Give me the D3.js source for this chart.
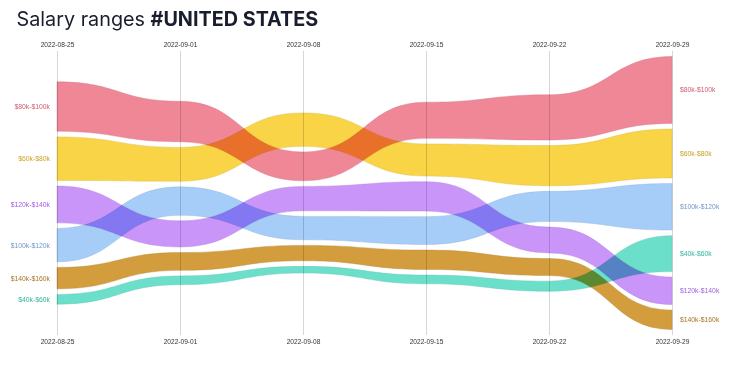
<!DOCTYPE html>
<html>
<head>
<meta charset="utf-8">
<script src="https://cdn.jsdelivr.net/npm/d3@7"></script>
<style>
  html, body { margin: 0; padding: 0; background: #fff; }
  svg { display: block; }
  .ribbon { mix-blend-mode: multiply; }
</style>
</head>
<body>
<svg id="chart" width="750" height="366"></svg>
<script>
// ---- data ----
const dates = ["2022-08-25", "2022-09-01", "2022-09-08", "2022-09-15", "2022-09-22", "2022-09-29"];
const categories = ["$80k-$100k", "$60k-$80k", "$120k-$140k", "$100k-$120k", "$140k-$160k", "$40k-$60k"];
const v80_100  = [49.3, 40.3, 28.7, 36.0, 45.0, 66.7];
const v60_80   = [43.3, 33.7, 33.3, 32.0, 40.0, 48.7];
const v120_140 = [36.7, 26.0, 24.3, 29.3, 25.7, 27.3];
const v100_120 = [33.3, 28.3, 23.3, 27.7, 30.0, 46.3];
const v140_160 = [21.3, 17.7, 15.3, 19.3, 17.0, 19.3];
const v40_60   = [ 9.7,  8.7,  6.7,  8.7, 10.0, 35.7];
const seriesValues = [v80_100, v60_80, v120_140, v100_120, v140_160, v40_60];
const fillColors  = ["#ef8797", "#f9d447", "#c995f8", "#a6cdf8", "#d39d3e", "#6cdfca"];
const labelColors = ["#cf5b72", "#c9a226", "#a15fe2", "#6e98c9", "#a87326", "#2fb49b"];

// ---- layout ----
const svg = d3.select("#chart");
const parse = d3.timeParse("%Y-%m-%d");
const fmt = d3.timeFormat("%Y-%m-%d");
const dateObjs = dates.map(parse);

const x = d3.scaleTime().domain(d3.extent(dateObjs)).range([57, 672]);
const gap = 5.6;
const plotTop = 56.5, plotBottom = 329.5, plotCenter = (plotTop + plotBottom) / 2;
const totals = dates.map((d, i) => d3.sum(seriesValues, s => s[i]));
const h = d3.scaleLinear()
  .domain([0, d3.max(totals)])
  .range([0, (plotBottom - plotTop) - gap * (categories.length - 1)]);

// positions: sort by value desc at each date, center the stack
const pos = categories.map(() => []);
dates.forEach((d, i) => {
  const order = d3.range(categories.length).sort((a, b) => seriesValues[b][i] - seriesValues[a][i]);
  const total = h(totals[i]) + gap * (categories.length - 1);
  let y = plotCenter - total / 2;
  order.forEach(k => {
    const hh = h(seriesValues[k][i]);
    pos[k][i] = { date: dateObjs[i], y0: y, y1: y + hh };
    y += hh + gap;
  });
});

// ---- title ----
const title = svg.append("text")
  .attr("x", 16.5).attr("y", 26)
  .attr("font-family", "Inter, 'Liberation Sans', sans-serif")
  .attr("font-size", 19.8)
  .attr("fill", "#1a1d2e");
title.append("tspan").attr("font-weight", 400).text("Salary ranges ");
title.append("tspan").attr("font-weight", 700).text("#UNITED STATES");

// ---- grid lines ----
svg.append("g").selectAll("line")
  .data(dateObjs).join("line")
  .attr("x1", d => x(d)).attr("x2", d => x(d))
  .attr("y1", 51).attr("y2", 335)
  .attr("stroke", "#d6d6d6").attr("stroke-width", 1)
  .attr("shape-rendering", "crispEdges");

// ---- axes ----
const axisTop = d3.axisTop(x).tickValues(dateObjs).tickFormat(fmt).tickSize(0).tickPadding(4);
const axisBottom = d3.axisBottom(x).tickValues(dateObjs).tickFormat(fmt).tickSize(0).tickPadding(4);
const gTop = svg.append("g").attr("transform", "translate(0,51)").call(axisTop);
const gBot = svg.append("g").attr("transform", "translate(0,335)").call(axisBottom);
[gTop, gBot].forEach(g => {
  g.select(".domain").remove();
  g.selectAll("text")
    .attr("font-family", "'Liberation Sans', Arial, sans-serif")
    .attr("font-size", 6.6)
    .attr("fill", "#333");
});

// ---- ribbons ----
const area = d3.area()
  .x(d => x(d.date))
  .y0(d => d.y0)
  .y1(d => d.y1)
  .curve(d3.curveBumpX);

svg.append("g").selectAll("path")
  .data(categories).join("path")
  .attr("class", "ribbon")
  .attr("d", (c, k) => area(pos[k]))
  .attr("fill", (c, k) => fillColors[k])
  .attr("stroke", (c, k) => d3.color(fillColors[k]).darker(0.4))
  .attr("stroke-opacity", 0.5)
  .attr("stroke-width", 0.8);

// ---- labels ----
const labelFont = "'Liberation Sans', Arial, sans-serif";
svg.append("g").selectAll("text")
  .data(categories).join("text")
  .attr("x", 50)
  .attr("y", (c, k) => (pos[k][0].y0 + pos[k][0].y1) / 2)
  .attr("dy", "0.35em")
  .attr("text-anchor", "end")
  .attr("font-family", labelFont)
  .attr("font-size", 6.8)
  .attr("fill", (c, k) => labelColors[k])
  .text(c => c);

const last = dates.length - 1;
svg.append("g").selectAll("text")
  .data(categories).join("text")
  .attr("x", 680)
  .attr("y", (c, k) => (pos[k][last].y0 + pos[k][last].y1) / 2)
  .attr("dy", "0.35em")
  .attr("text-anchor", "start")
  .attr("font-family", labelFont)
  .attr("font-size", 6.8)
  .attr("fill", (c, k) => labelColors[k])
  .text(c => c);
</script>
</body>
</html>
